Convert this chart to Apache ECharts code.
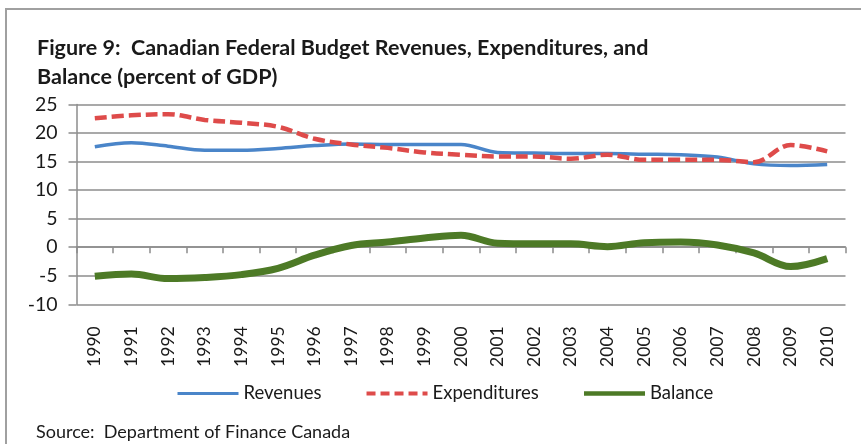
<!DOCTYPE html>
<html>
<head>
<meta charset="utf-8">
<script src="https://cdn.jsdelivr.net/npm/echarts@6/dist/echarts.min.js"></script>
<style>
  html, body { margin: 0; padding: 0; background: #ffffff; }
  #chart { width: 861px; height: 444px; }
</style>
</head>
<body>
<div id="chart"></div>
<script>
// Canadian federal budget, percent of GDP
const years = ['1990','1991','1992','1993','1994','1995','1996','1997','1998','1999','2000',
               '2001','2002','2003','2004','2005','2006','2007','2008','2009','2010'];
const revenues     = [17.6, 18.3, 17.7, 17.0, 17.0, 17.3, 17.8, 18.1, 18.0, 18.0, 18.0,
                      16.6, 16.5, 16.4, 16.4, 16.3, 16.2, 15.8, 14.6, 14.3, 14.5];
const expenditures = [22.6, 23.1, 23.3, 22.3, 21.8, 21.1, 19.0, 18.0, 17.4, 16.6, 16.2,
                      15.9, 15.9, 15.5, 16.2, 15.3, 15.3, 15.3, 14.9, 17.9, 16.8];
const balance      = [-5.1, -4.7, -5.5, -5.3, -4.8, -3.7, -1.4, 0.3, 0.9, 1.6, 2.1,
                      0.7, 0.6, 0.6, 0.1, 0.8, 0.9, 0.4, -1.0, -3.4, -2.0];
const yTicks = { min: -10, max: 25, step: 5 };

const FONT = 'Lato';
const GRID_COLOR = '#8c8c8c';
const BLUE = '#4a85c9';
const RED = '#de4b4a';
const GREEN = '#4d7a26';

const chart = echarts.init(document.getElementById('chart'), null, { renderer: 'canvas' });

chart.setOption({
  animation: false,
  backgroundColor: '#ffffff',
  title: {
    text: 'Figure 9:  Canadian Federal Budget Revenues, Expenditures, and\nBalance (percent of GDP)',
    left: 32,
    top: 29,
    textStyle: {
      fontFamily: FONT,
      fontWeight: 'bold',
      fontSize: 21.5,
      lineHeight: 29,
      color: '#1a1a1a'
    }
  },
  legend: {
    left: 171,
    top: 379,
    itemWidth: 61,
    itemHeight: 20,
    itemGap: 43,
    itemStyle: { opacity: 0 },
    textStyle: { fontFamily: FONT, fontSize: 18.5, color: '#1a1a1a' },
    data: [
      { name: 'Revenues', lineStyle: { width: 3, color: BLUE } },
      { name: 'Expenditures', lineStyle: { width: 4, color: RED, type: [9, 5] } },
      { name: 'Balance', lineStyle: { width: 4.5, color: GREEN } }
    ]
  },
  grid: { left: 76.5, right: 15.5, top: 104.5, bottom: 139.7, containLabel: false },
  xAxis: [
    {
      type: 'category',
      data: years,
      position: 'bottom',
      boundaryGap: true,
      axisLine: { show: false, onZero: false },
      axisTick: { show: false },
      axisLabel: {
        rotate: 90,
        margin: 22,
        fontFamily: FONT,
        fontSize: 17.5,
        color: '#1a1a1a'
      }
    },
    {
      // axis drawn across the zero line, carrying the category ticks
      type: 'category',
      data: years,
      position: 'bottom',
      boundaryGap: true,
      axisLine: { show: true, onZero: true, lineStyle: { color: GRID_COLOR, width: 1.5 } },
      axisTick: { show: true, length: 6, lineStyle: { color: GRID_COLOR, width: 1.5 } },
      axisLabel: { show: false }
    }
  ],
  yAxis: {
    type: 'value',
    min: yTicks.min,
    max: yTicks.max,
    interval: yTicks.step,
    axisLine: { show: true, lineStyle: { color: GRID_COLOR, width: 1.5 } },
    axisTick: { show: true, length: 8, lineStyle: { color: GRID_COLOR, width: 1.5 } },
    splitLine: { show: true, lineStyle: { color: GRID_COLOR, width: 1.5 } },
    axisLabel: {
      margin: 19,
      fontFamily: FONT,
      fontSize: 19.5,
      color: '#1a1a1a'
    }
  },
  series: [
    {
      name: 'Revenues',
      type: 'line',
      xAxisIndex: 0,
      data: revenues,
      smooth: 0.35,
      symbol: 'none',
      itemStyle: { color: BLUE },
      lineStyle: { color: BLUE, width: 3.5 },
      z: 3
    },
    {
      name: 'Expenditures',
      type: 'line',
      xAxisIndex: 0,
      data: expenditures,
      smooth: 0.35,
      symbol: 'none',
      itemStyle: { color: RED },
      lineStyle: { color: RED, width: 4.5, type: [12, 5] },
      z: 4
    },
    {
      name: 'Balance',
      type: 'line',
      xAxisIndex: 0,
      data: balance,
      smooth: 0.35,
      symbol: 'none',
      itemStyle: { color: GREEN },
      lineStyle: { color: GREEN, width: 7 },
      z: 3
    }
  ],
  graphic: [
    {
      type: 'rect',
      shape: { x: 6, y: 9, width: 1000, height: 1000 },
      style: { fill: null, stroke: '#a0a0a0', lineWidth: 2 },
      silent: true,
      z: -1
    },
    {
      type: 'text',
      left: 36,
      top: 423,
      style: {
        text: 'Source:  Department of Finance Canada',
        fontFamily: FONT,
        fontSize: 18,
        fill: '#1a1a1a'
      }
    }
  ]
});
</script>
</body>
</html>
